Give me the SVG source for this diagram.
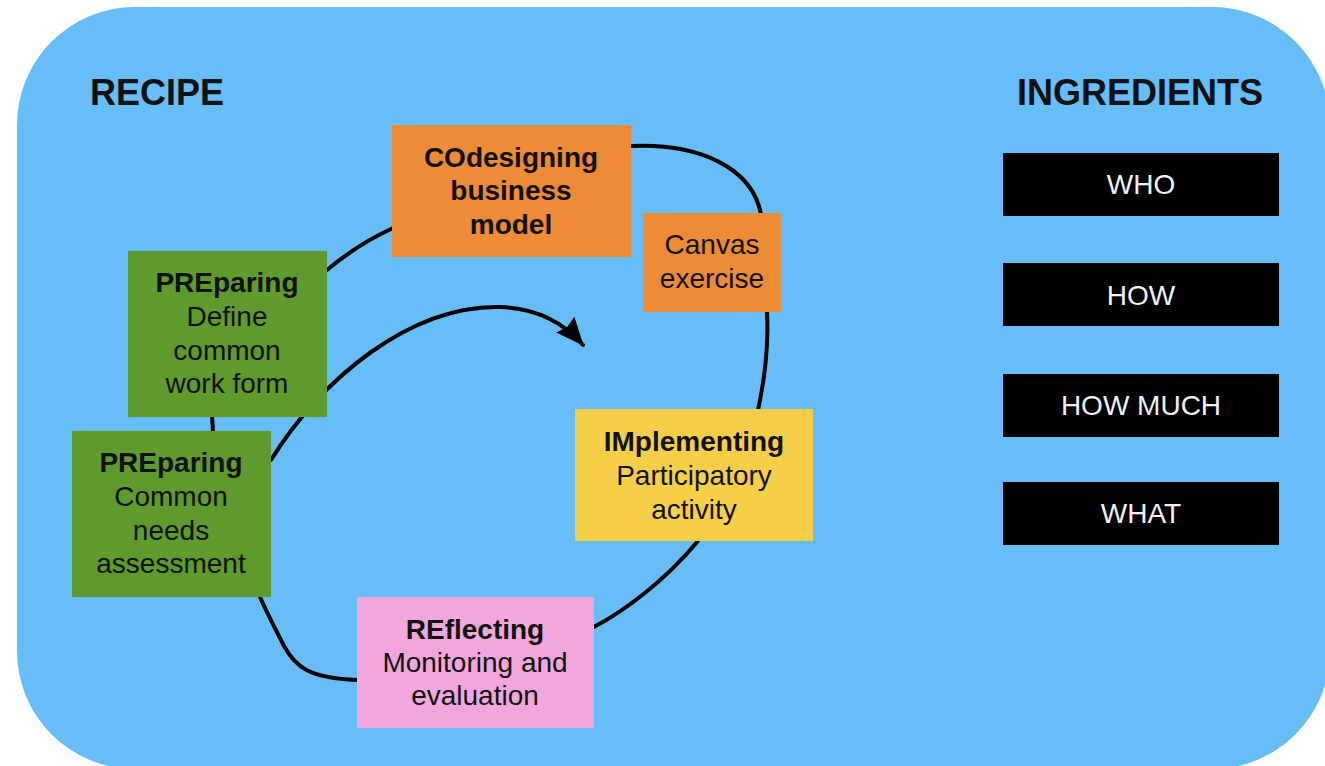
<svg xmlns="http://www.w3.org/2000/svg" width="1325" height="766" viewBox="0 0 1325 766">
  <defs>
    <marker id="arrowhead" markerUnits="userSpaceOnUse" markerWidth="32" markerHeight="28" refX="27" refY="12" orient="auto">
      <path d="M0,0 L28,12 L0,24 L3,12 z" fill="#000"/>
    </marker>
    <style>
      .bg { fill: #67bdf7; }
      .title { font-family: "Liberation Sans", Arial, sans-serif; font-weight: bold; font-size: 36px; fill: #111; }
      .lbl { font-family: "Liberation Sans", Arial, sans-serif; font-size: 28px; fill: #111; text-anchor: middle; }
      .lbl .b { font-weight: bold; }
      .ing { font-family: "Liberation Sans", Arial, sans-serif; font-size: 28px; fill: #f2f2f2; text-anchor: middle; }
      .orange { fill: #ed8b37; }
      .green { fill: #5e9a2c; }
      .yellow { fill: #f6cf48; }
      .pink { fill: #f1a7dd; }
      .black { fill: #000; }
      .conn { fill: none; stroke: #000; stroke-width: 4; stroke-linecap: round; }
    </style>
  </defs>

  <!-- panel -->
  <rect class="bg" x="17" y="7" width="1313" height="762" rx="118" ry="118"/>

  <text class="title" x="90" y="105">RECIPE</text>
  <text class="title" x="1017" y="105">INGREDIENTS</text>

  <!-- cycle connectors -->
  <g id="connectors">
    <path class="conn" d="M327,270 Q358,244 393,228"/>
    <path class="conn" d="M631,146 C700,143 752,168 761,214"/>
    <path class="conn" d="M767,312 C769,350 764,382 758,410"/>
    <path class="conn" d="M698,541 C662,584 622,612 594,627"/>
    <path class="conn" d="M357,680 C310,678 296,668 284,646 C274,626 266,611 260,597"/>
    <path class="conn" d="M212,415 L213,432"/>
    <path class="conn" d="M271,460 C320,380 410,305 500,307 C535,308 563,322 583,345" marker-end="url(#arrowhead)"/>
  </g>

  <g id="node-codesigning">
    <rect class="orange" x="392" y="125" width="239" height="132"/>
    <text class="lbl"><tspan class="b" x="511" y="167">COdesigning</tspan><tspan class="b" x="511" y="200">business</tspan><tspan class="b" x="511" y="234">model</tspan></text>
  </g>

  <g id="node-canvas">
    <rect class="orange" x="643" y="213" width="138" height="99"/>
    <text class="lbl"><tspan x="712" y="254">Canvas</tspan><tspan x="712" y="288">exercise</tspan></text>
  </g>

  <g id="node-preparing-form">
    <rect class="green" x="128" y="251" width="199" height="166"/>
    <text class="lbl"><tspan class="b" x="227" y="292">PREparing</tspan><tspan x="227" y="326">Define</tspan><tspan x="227" y="360">common</tspan><tspan x="227" y="393">work form</tspan></text>
  </g>

  <g id="node-preparing-needs">
    <rect class="green" x="72" y="431" width="199" height="166"/>
    <text class="lbl"><tspan class="b" x="171" y="472">PREparing</tspan><tspan x="171" y="506">Common</tspan><tspan x="171" y="540">needs</tspan><tspan x="171" y="573">assessment</tspan></text>
  </g>

  <g id="node-implementing">
    <rect class="yellow" x="575" y="409" width="238" height="132"/>
    <text class="lbl"><tspan class="b" x="694" y="451">IMplementing</tspan><tspan x="694" y="485">Participatory</tspan><tspan x="694" y="519">activity</tspan></text>
  </g>

  <g id="node-reflecting">
    <rect class="pink" x="357" y="597" width="237" height="131"/>
    <text class="lbl"><tspan class="b" x="475" y="639">REflecting</tspan><tspan x="475" y="672">Monitoring and</tspan><tspan x="475" y="705">evaluation</tspan></text>
  </g>

  <g id="node-who">
    <rect class="black" x="1003" y="153" width="276" height="63"/>
    <text class="ing" x="1141" y="194">WHO</text>
  </g>
  <g id="node-how">
    <rect class="black" x="1003" y="263" width="276" height="63"/>
    <text class="ing" x="1141" y="305">HOW</text>
  </g>
  <g id="node-how-much">
    <rect class="black" x="1003" y="374" width="276" height="63"/>
    <text class="ing" x="1141" y="415">HOW MUCH</text>
  </g>
  <g id="node-what">
    <rect class="black" x="1003" y="482" width="276" height="63"/>
    <text class="ing" x="1141" y="523">WHAT</text>
  </g>
</svg>
